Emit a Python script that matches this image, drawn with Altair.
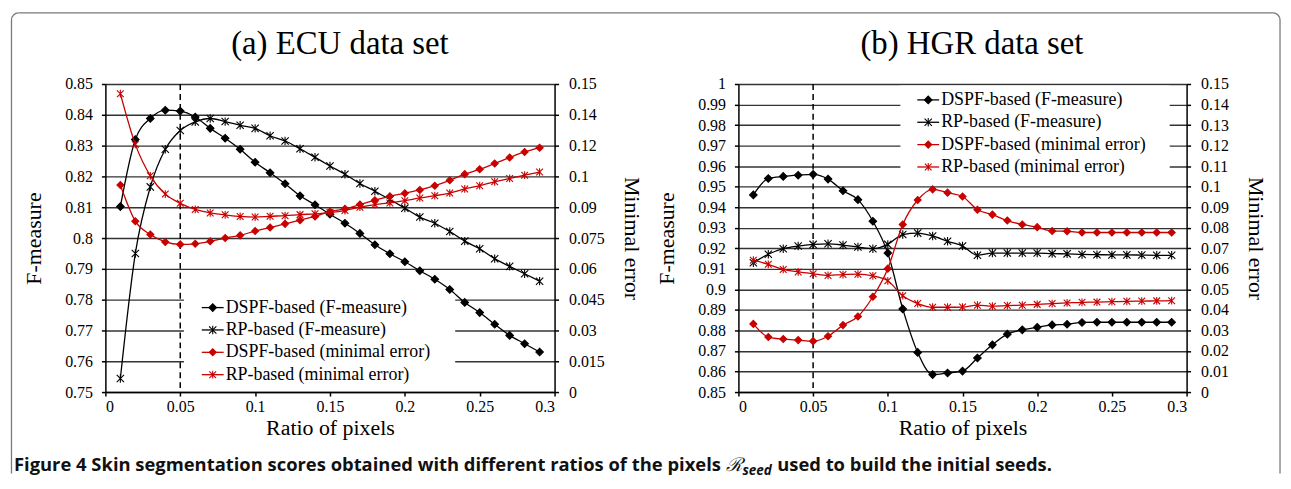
import math
import altair as alt
import pandas as pd

# ---------------- data ----------------
ratio = [0.01, 0.02, 0.03, 0.04, 0.05, 0.06, 0.07, 0.08, 0.09, 0.10,
         0.11, 0.12, 0.13, 0.14, 0.15, 0.16, 0.17, 0.18, 0.19, 0.20,
         0.21, 0.22, 0.23, 0.24, 0.25, 0.26, 0.27, 0.28, 0.29]

# (a) ECU data set
ecu_dspf_f = [0.8102, 0.8320, 0.8388, 0.8415, 0.8412, 0.8393, 0.8356, 0.8324, 0.8288, 0.8246,
              0.8212, 0.8176, 0.8137, 0.8108, 0.8077, 0.8048, 0.8015, 0.7978, 0.7949, 0.7923,
              0.7894, 0.7866, 0.7833, 0.7791, 0.7758, 0.7720, 0.7684, 0.7657, 0.7630]
ecu_rp_f = [0.7544, 0.7950, 0.8166, 0.8288, 0.8349, 0.8377, 0.8388, 0.8378, 0.8366, 0.8356,
            0.8332, 0.8315, 0.8290, 0.8262, 0.8234, 0.8207, 0.8177, 0.8152, 0.8125, 0.8097,
            0.8068, 0.8048, 0.8021, 0.7990, 0.7965, 0.7933, 0.7908, 0.7884, 0.7860]
ecu_dspf_err = [0.1008, 0.0832, 0.0767, 0.0731, 0.0719, 0.0722, 0.0734, 0.0750, 0.0763, 0.0784,
                0.0801, 0.0819, 0.0837, 0.0855, 0.0879, 0.0892, 0.0913, 0.0934, 0.0953, 0.0968,
                0.0984, 0.1005, 0.1031, 0.1061, 0.1085, 0.1113, 0.1142, 0.1169, 0.1190]
ecu_rp_err = [0.1453, 0.1206, 0.1053, 0.0964, 0.0919, 0.0889, 0.0872, 0.0863, 0.0855, 0.0852,
              0.0856, 0.0859, 0.0864, 0.0868, 0.0874, 0.0884, 0.0900, 0.0913, 0.0921, 0.0932,
              0.0945, 0.0956, 0.0969, 0.0989, 0.1005, 0.1024, 0.1040, 0.1056, 0.1071]

# (b) HGR data set
hgr_dspf_f = [0.9460, 0.9540, 0.9550, 0.9556, 0.9560, 0.9537, 0.9480, 0.9437, 0.9332, 0.9177,
              0.8905, 0.8693, 0.8585, 0.8593, 0.8602, 0.8666, 0.8730, 0.8782, 0.8803, 0.8815,
              0.8827, 0.8830, 0.8839, 0.8840, 0.8840, 0.8840, 0.8840, 0.8840, 0.8840]
hgr_rp_f = [0.9130, 0.9171, 0.9198, 0.9211, 0.9219, 0.9222, 0.9216, 0.9206, 0.9198, 0.9219,
            0.9267, 0.9274, 0.9260, 0.9234, 0.9211, 0.9166, 0.9177, 0.9177, 0.9177, 0.9177,
            0.9174, 0.9173, 0.9170, 0.9169, 0.9168, 0.9168, 0.9167, 0.9166, 0.9166]
hgr_dspf_err = [0.0332, 0.0268, 0.0258, 0.0253, 0.0248, 0.0272, 0.0326, 0.0368, 0.0464, 0.0601,
                0.0816, 0.0935, 0.0987, 0.0971, 0.0952, 0.0888, 0.0864, 0.0835, 0.0816, 0.0803,
                0.0784, 0.0783, 0.0777, 0.0777, 0.0777, 0.0777, 0.0777, 0.0777, 0.0777]
hgr_rp_err = [0.0642, 0.0622, 0.0597, 0.0585, 0.0576, 0.0568, 0.0572, 0.0574, 0.0566, 0.0542,
              0.0469, 0.0431, 0.0413, 0.0413, 0.0414, 0.0423, 0.0418, 0.0421, 0.0423, 0.0427,
              0.0431, 0.0434, 0.0437, 0.0438, 0.0440, 0.0442, 0.0443, 0.0444, 0.0445]

series_names = ["DSPF-based (F-measure)", "RP-based (F-measure)",
                "DSPF-based (minimal error)", "RP-based (minimal error)"]

x_ticks = [0, 0.05, 0.1, 0.15, 0.2, 0.25, 0.3]
ecu_f_ticks = [0.75, 0.76, 0.77, 0.78, 0.79, 0.8, 0.81, 0.82, 0.83, 0.84, 0.85]
ecu_err_ticks = [0, 0.015, 0.03, 0.045, 0.06, 0.075, 0.09, 0.105, 0.12, 0.135, 0.15]
hgr_f_ticks = [0.85, 0.86, 0.87, 0.88, 0.89, 0.9, 0.91, 0.92, 0.93, 0.94, 0.95,
               0.96, 0.97, 0.98, 0.99, 1]
hgr_err_ticks = [0, 0.01, 0.02, 0.03, 0.04, 0.05, 0.06, 0.07, 0.08, 0.09, 0.1,
                 0.11, 0.12, 0.13, 0.14, 0.15]
marker_ratio = [0.05]

panel_titles = ["(a) ECU data set", "(b) HGR data set"]
caption_main = "Figure 4 Skin segmentation scores obtained with different ratios of the pixels"
caption_sym = "\u211b"
caption_sub = "seed"
caption_end = "used to build the initial seeds."

# ---------------- styles ----------------
SERIF = "Liberation Serif"
SANS = "Open Sans"
RED = "#c80000"
STAR = "M-1,-1L1,1M1,-1L-1,1M0,-1.15L0,1.15"
series_colors = ["#000000", "#000000", RED, RED]
series_shapes = ["diamond", STAR, "diamond", STAR]
series_sizes = [58, 46, 58, 46]

stroke_enc = alt.Stroke("series:N", scale=alt.Scale(domain=series_names, range=series_colors), legend=None)
fill_enc = alt.Fill("series:N", scale=alt.Scale(domain=series_names, range=series_colors), legend=None)
shape_enc = alt.Shape("series:N", scale=alt.Scale(domain=series_names, range=series_shapes), legend=None)
size_enc = alt.Size("series:N", scale=alt.Scale(domain=series_names, range=series_sizes), legend=None)

one = pd.DataFrame({"k": [0]})


def long_df(a, b, na, nb):
    return pd.DataFrame({"ratio": ratio + ratio, "value": a + b,
                         "series": [na] * len(a) + [nb] * len(b)})


def x_enc():
    return alt.X("ratio:Q", scale=alt.Scale(domain=[0, 0.3], nice=False, zero=False),
                 axis=alt.Axis(values=x_ticks, format="~g", title="Ratio of pixels", grid=False,
                               labelPadding=3, titlePadding=3))


def series_group(df, y):
    base = alt.Chart(df)
    line = base.mark_line(interpolate="monotone", strokeWidth=1.3).encode(
        x=x_enc(), y=y, stroke=stroke_enc)
    pts = base.mark_point(opacity=1, strokeWidth=1.1).encode(
        x=x_enc(), y=y, stroke=stroke_enc, fill=fill_enc, shape=shape_enc, size=size_enc)
    return alt.layer(line, pts)


def panel(title, title_cx, f_a, f_b, e_a, e_b, f_dom, f_ticks, e_ticks, width,
          box, leg_x, leg_y0, extra):
    f_y = alt.Y("value:Q", scale=alt.Scale(domain=f_dom, nice=False, zero=False),
                axis=alt.Axis(orient="left", values=f_ticks, format="~g", grid=True,
                              title="F-measure", labelPadding=9, titlePadding=19))
    e_y = alt.Y("value:Q", scale=alt.Scale(domain=[0, 0.15], nice=False, zero=False),
                axis=alt.Axis(orient="right", values=e_ticks, format="~g", grid=False,
                              title="Minimal error", labelPadding=10, titlePadding=15))
    f_grp = series_group(long_df(f_a, f_b, series_names[0], series_names[1]), f_y)
    e_grp = series_group(long_df(e_a, e_b, series_names[2], series_names[3]), e_y)

    box_layer = alt.Chart(one).mark_rect(fill="white").encode(
        x=alt.value(box[0]), x2=alt.value(box[1]), y=alt.value(box[2]), y2=alt.value(box[3]))
    dashed = alt.Chart(pd.DataFrame({"ratio": marker_ratio})).mark_rule(
        strokeDash=[6, 4], strokeWidth=1.5, color="black").encode(x=x_enc())

    leg_df = pd.DataFrame({"series": series_names})
    leg_y = alt.Y("series:N", axis=None,
                  scale=alt.Scale(type="point", domain=series_names,
                                  range=[leg_y0, leg_y0 + 3 * 22.5], padding=0))
    leg_rule = alt.Chart(leg_df).mark_rule(strokeWidth=1.3).encode(
        x=alt.value(leg_x), x2=alt.value(leg_x + 22), y=leg_y, stroke=stroke_enc)
    leg_pts = alt.Chart(leg_df).mark_point(opacity=1, strokeWidth=1.1).encode(
        x=alt.value(leg_x + 11), y=leg_y, stroke=stroke_enc, fill=fill_enc,
        shape=shape_enc, size=size_enc)
    leg_txt = alt.Chart(leg_df).mark_text(
        align="left", baseline="middle", font=SERIF, fontSize=18, color="black").encode(
        x=alt.value(leg_x + 24), y=leg_y, text="series:N")

    title_layer = alt.Chart(one).mark_text(
        text=title, font=SERIF, fontSize=33, align="center", baseline="alphabetic",
        color="black").encode(x=alt.value(title_cx), y=alt.value(-30))

    layers = [box_layer, dashed, f_grp, e_grp, leg_rule, leg_pts, leg_txt, title_layer] + extra
    return alt.layer(*layers).resolve_scale(y="independent").properties(width=width, height=310)


# frame and caption (drawn relative to the left panel's plot area)
FRAME = "#7a7a7a"
fx0, fx1, fy0, fy1, r = -94.5, 1182, -71.5, 392, 7
frame_layers = [
    alt.Chart(one).mark_rule(color=FRAME, strokeWidth=1.3).encode(
        x=alt.value(fx0), y=alt.value(fy0 + r), y2=alt.value(fy1)),
    alt.Chart(one).mark_rule(color=FRAME, strokeWidth=1.3).encode(
        x=alt.value(fx1), y=alt.value(fy0 + r), y2=alt.value(fy1)),
    alt.Chart(one).mark_rule(color=FRAME, strokeWidth=1.3).encode(
        x=alt.value(fx0 + r), x2=alt.value(fx1 - r), y=alt.value(fy0)),
    alt.Chart(one).mark_arc(fillOpacity=0, stroke=FRAME, strokeWidth=1.3).encode(
        x=alt.value(fx0 + r), y=alt.value(fy0 + r), radius=alt.value(r), radius2=alt.value(r),
        theta=alt.value(1.5 * math.pi), theta2=alt.value(2 * math.pi)),
    alt.Chart(one).mark_arc(fillOpacity=0, stroke=FRAME, strokeWidth=1.3).encode(
        x=alt.value(fx1 - r), y=alt.value(fy0 + r), radius=alt.value(r), radius2=alt.value(r),
        theta=alt.value(0), theta2=alt.value(0.5 * math.pi)),
]
cap_y = 389
CAP = 18.5
caption_layers = [
    alt.Chart(one).mark_text(text=caption_main, font=SANS, fontSize=CAP, fontWeight="bold",
                             align="left", baseline="alphabetic", color="#111111").encode(
        x=alt.value(-92), y=alt.value(cap_y)),
    alt.Chart(one).mark_text(text=caption_sym, font="DejaVu Serif", fontSize=19, fontStyle="italic",
                             align="left", baseline="alphabetic", color="#111111").encode(
        x=alt.value(625), y=alt.value(cap_y)),
    alt.Chart(one).mark_text(text=caption_sub, font=SANS, fontSize=13.5, fontWeight="bold",
                             fontStyle="italic", align="left", baseline="alphabetic",
                             color="#111111").encode(
        x=alt.value(641), y=alt.value(cap_y + 4)),
    alt.Chart(one).mark_text(text=caption_end, font=SANS, fontSize=CAP, fontWeight="bold",
                             align="left", baseline="alphabetic", color="#111111").encode(
        x=alt.value(676), y=alt.value(cap_y)),
]

panel_a = panel(panel_titles[0], 236, ecu_dspf_f, ecu_rp_f, ecu_dspf_err, ecu_rp_err,
                [0.75, 0.85], ecu_f_ticks, ecu_err_ticks, 452,
                box=[79, 352, 213, 308.5], leg_x=97, leg_y0=225,
                extra=frame_layers + caption_layers)
panel_b = panel(panel_titles[1], 235, hgr_dspf_f, hgr_rp_f, hgr_dspf_err, hgr_rp_err,
                [0.85, 1.0], hgr_f_ticks, hgr_err_ticks, 451,
                box=[163, 434, 1.5, 96], leg_x=180, leg_y0=16,
                extra=[])

chart = alt.hconcat(panel_a, panel_b).properties(
    spacing=185, bounds="flush", padding=0
).configure_view(
    stroke=None
).configure_axis(
    domainColor="black", domainWidth=1.5, tickColor="black", tickWidth=1.5, tickSize=4,
    labelFont=SERIF, labelFontSize=16, labelColor="black",
    titleFont=SERIF, titleFontSize=22, titleFontWeight="normal", titleColor="black",
    gridColor="#333333", gridWidth=1.4, gridOpacity=1
)

chart.save("out.html", embed_options={"renderer": "svg", "actions": False})
